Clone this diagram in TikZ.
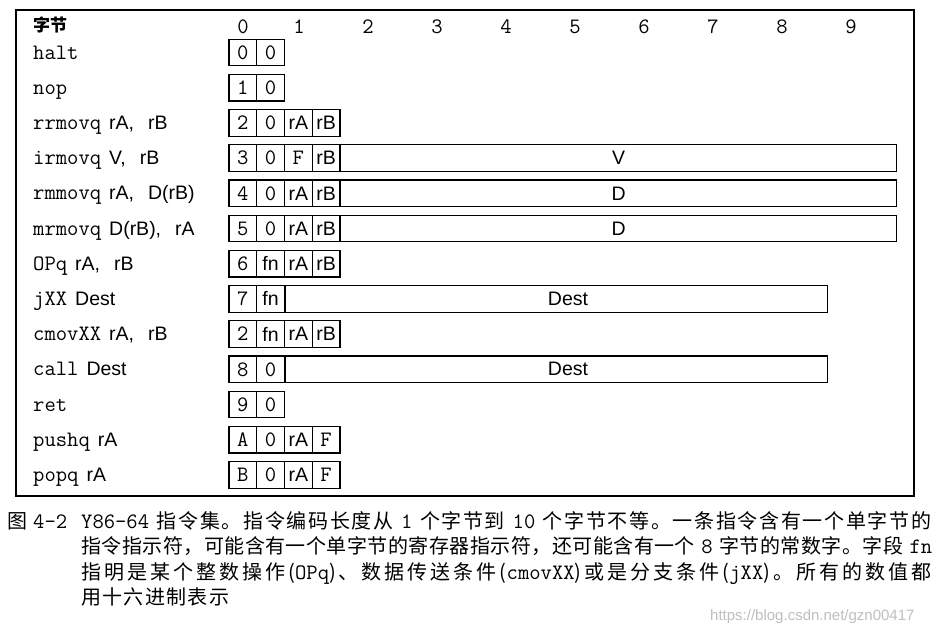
\documentclass[tikz,border=0pt]{standalone}
\usepackage{fontspec}
\setmainfont{Liberation Sans}
\newfontfamily\arialfont{Liberation Sans}
\newfontfamily\cjkfont{Noto Sans CJK SC}
\newfontfamily\cjkhead{Noto Sans CJK SC}
\newcommand\mn{\ttfamily\fontsize{22}{23}\selectfont}
\newcommand\ar{\arialfont\fontsize{19.5}{20}\selectfont}
\newcommand\cj[1]{{\cjkfont\fontsize{20}{20}\selectfont #1}}
\newcommand\cm[1]{{\mn #1}}
\newcommand\gp{\hspace{6pt}}
\newcommand\gq{\hskip 6pt plus 1fil\relax}
\newcommand\spc{\hskip 0pt plus 1fil\relax}
\def\js#1{\jsx#1\jsend}
\def\jsx#1#2\jsend{#1\ifx\relax#2\relax\else\spc\jsx#2\jsend\fi}
\newcommand\op[1]{\hspace{8pt}{\ar #1}}
\newcommand\cmm{,\hspace{14pt}}
\newcommand\rowy[1]{52.5+35.2*#1}
\newcommand\nib[5]{\node[#4] (#1) at ({229+27.75*(#2+0.5)},{\rowy{#3}}) {#5};}
\begin{document}
\begin{tikzpicture}[x=1pt,y=-1pt,
  cell/.style={draw, line width=1.2pt, minimum width=27.75pt, minimum height=26.5pt, inner sep=0pt, font=\mn},
  acell/.style={cell, font=\ar},
  longcell/.style={draw, line width=1.2pt, minimum height=26.5pt, inner sep=0pt, anchor=west},
  lbl/.style={anchor=base west, inner sep=0pt},
  hd/.style={anchor=base, inner sep=0pt, font=\mn},
  captext/.style={anchor=base west, inner sep=0pt}]
\useasboundingbox (0,0) rectangle (935,632);
\fill[white] (0,0) rectangle (935,632);
\draw[line width=1.1pt] (16,10) rectangle (914,496);
% header
\node[lbl] (hz) at (33,31) {\cjkhead\bfseries\fontsize{17}{17}\selectfont 字节};
\node[hd] (h0) at (243,33) {0};
\node[hd] (h1) at (299,33) {1};
\node[hd] (h2) at (368,33) {2};
\node[hd] (h3) at (437,33) {3};
\node[hd] (h4) at (506,33) {4};
\node[hd] (h5) at (575,33) {5};
\node[hd] (h6) at (644,33) {6};
\node[hd] (h7) at (713,33) {7};
\node[hd] (h8) at (782,33) {8};
\node[hd] (h9) at (851,33) {9};
% labels
\node[lbl] (l0) at (33,{\rowy{0}+6.5}) {\mn halt};
\node[lbl] (l1) at (33,{\rowy{1}+6.5}) {\mn nop};
\node[lbl] (l2) at (33,{\rowy{2}+6.5}) {\mn rrmovq\op{rA\cmm rB}};
\node[lbl] (l3) at (33,{\rowy{3}+6.5}) {\mn irmovq\op{V\cmm rB}};
\node[lbl] (l4) at (33,{\rowy{4}+6.5}) {\mn rmmovq\op{rA\cmm D(rB)}};
\node[lbl] (l5) at (33,{\rowy{5}+6.5}) {\mn mrmovq\op{D(rB)\cmm rA}};
\node[lbl] (l6) at (33,{\rowy{6}+6.5}) {\mn OPq\op{rA\cmm rB}};
\node[lbl] (l7) at (33,{\rowy{7}+6.5}) {\mn jXX\op{Dest}};
\node[lbl] (l8) at (33,{\rowy{8}+6.5}) {\mn cmovXX\op{rA\cmm rB}};
\node[lbl] (l9) at (33,{\rowy{9}+6.5}) {\mn call\op{Dest}};
\node[lbl] (l10) at (33,{\rowy{10}+6.5}) {\mn ret};
\node[lbl] (l11) at (33,{\rowy{11}+6.5}) {\mn pushq\op{rA}};
\node[lbl] (l12) at (33,{\rowy{12}+6.5}) {\mn popq\op{rA}};
% cells
\nib{a0}{0}{0}{cell}{0}\nib{b0}{1}{0}{cell}{0}
\nib{a1}{0}{1}{cell}{1}\nib{b1}{1}{1}{cell}{0}
\nib{a2}{0}{2}{cell}{2}\nib{b2}{1}{2}{cell}{0}\nib{c2}{2}{2}{acell}{rA}\nib{d2}{3}{2}{acell}{rB}
\nib{a3}{0}{3}{cell}{3}\nib{b3}{1}{3}{cell}{0}\nib{c3}{2}{3}{cell}{F}\nib{d3}{3}{3}{acell}{rB}
\nib{a4}{0}{4}{cell}{4}\nib{b4}{1}{4}{cell}{0}\nib{c4}{2}{4}{acell}{rA}\nib{d4}{3}{4}{acell}{rB}
\nib{a5}{0}{5}{cell}{5}\nib{b5}{1}{5}{cell}{0}\nib{c5}{2}{5}{acell}{rA}\nib{d5}{3}{5}{acell}{rB}
\nib{a6}{0}{6}{cell}{6}\nib{b6}{1}{6}{acell}{fn}\nib{c6}{2}{6}{acell}{rA}\nib{d6}{3}{6}{acell}{rB}
\nib{a7}{0}{7}{cell}{7}\nib{b7}{1}{7}{acell}{fn}
\nib{a8}{0}{8}{cell}{2}\nib{b8}{1}{8}{acell}{fn}\nib{c8}{2}{8}{acell}{rA}\nib{d8}{3}{8}{acell}{rB}
\nib{a9}{0}{9}{cell}{8}\nib{b9}{1}{9}{cell}{0}
\nib{a10}{0}{10}{cell}{9}\nib{b10}{1}{10}{cell}{0}
\nib{a11}{0}{11}{cell}{A}\nib{b11}{1}{11}{cell}{0}\nib{c11}{2}{11}{acell}{rA}\nib{d11}{3}{11}{cell}{F}
\nib{a12}{0}{12}{cell}{B}\nib{b12}{1}{12}{cell}{0}\nib{c12}{2}{12}{acell}{rA}\nib{d12}{3}{12}{cell}{F}
% long fields
\node[longcell, minimum width=556pt, font=\ar] (v3) at (340,{\rowy{3}}) {V};
\node[longcell, minimum width=556pt, font=\ar] (v4) at (340,{\rowy{4}}) {D};
\node[longcell, minimum width=556pt, font=\ar] (v5) at (340,{\rowy{5}}) {D};
\node[longcell, minimum width=542.5pt] (v7) at (284.5,{\rowy{7}}) {};
\node[longcell, minimum width=542.5pt] (v9) at (284.5,{\rowy{9}}) {};
\node[font=\ar, inner sep=0pt] (t7) at (568,{\rowy{7}}) {Dest};
\node[font=\ar, inner sep=0pt] (t9) at (568,{\rowy{9}}) {Dest};
% caption
\node[captext] (fig) at (7,528) {\cj{图}\gp\cm{4-2}};
\node[captext] (c1) at (81,528) {\makebox[850pt][s]{\cm{Y86-64}\gq\cj{\js{指令集。指令编码长度从}}\gq\cm{1}\gq\cj{\js{个字节到}}\gq\cm{10}\gq\cj{\js{个字节不等。一条指令含有一个单字节的}}}};
\node[captext] (c2) at (81,553) {\makebox[851pt][s]{\cj{\js{指令指示符，可能含有一个单字节的寄存器指示符，还可能含有一个}}\gq\cm{8}\gq\cj{\js{字节的常数字。字段}}\gq\cm{fn}}};
\node[captext] (c3) at (81,579) {\makebox[850pt][s]{\cj{\js{指明是某个整数操作(}}\cm{OPq}\cj{\js{)、数据传送条件(}}\cm{cmovXX}\cj{\js{)或是分支条件(}}\cm{jXX}\cj{\js{)。所有的数值都}}}};
\node[captext] (c4) at (81,604) {\makebox[148pt][s]{\cj{\js{用十六进制表示}}}};
\node[anchor=base west, inner sep=0pt, text=black!25, font=\arialfont\fontsize{15}{15}\selectfont] (wm) at (710,620) {https://blog.csdn.net/gzn00417};
\end{tikzpicture}
\end{document}
